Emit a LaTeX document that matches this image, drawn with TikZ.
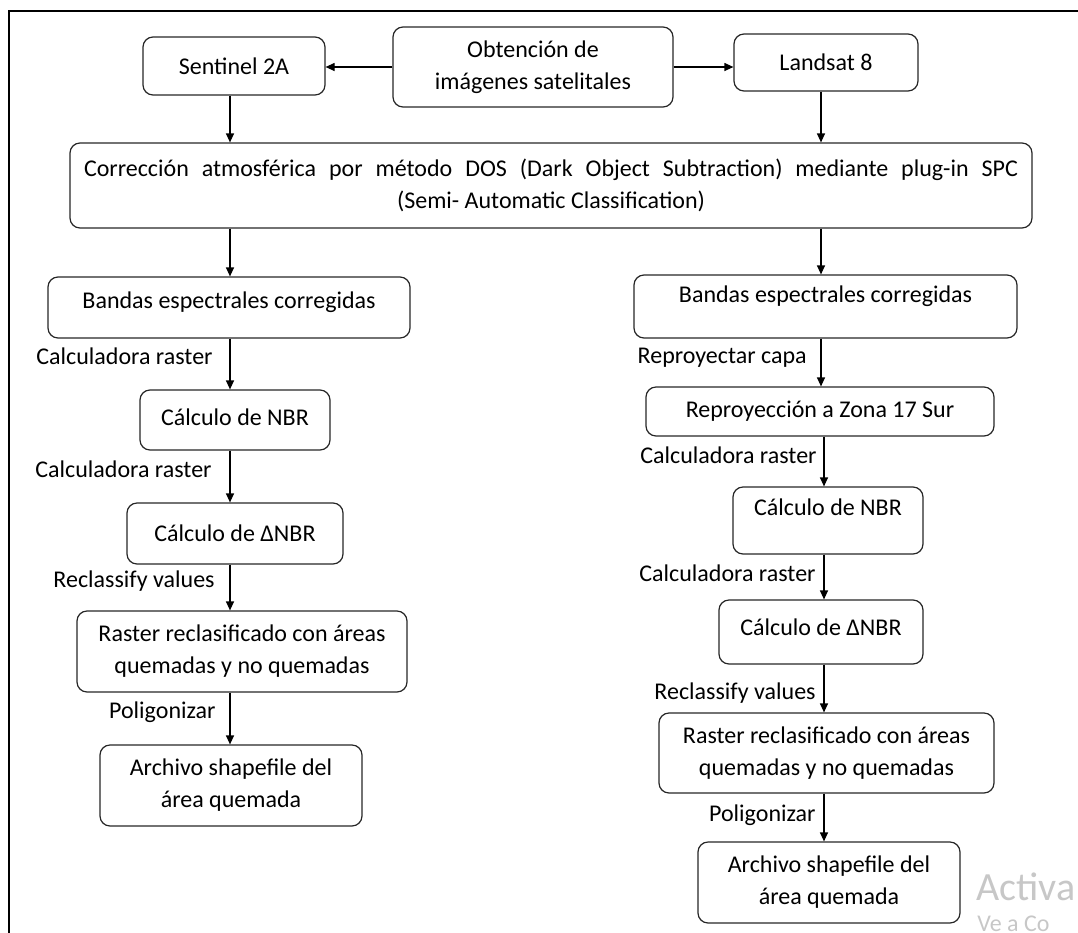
\documentclass[tikz,border=0pt]{standalone}
\usepackage{fontspec}
\setmainfont{Carlito}
\usetikzlibrary{arrows.meta}

\begin{document}
\begin{tikzpicture}[x=0.5pt,y=-0.5pt]
  \tikzstyle{every node}+=[inner sep=0pt]
  \tikzstyle{caja}=[draw=black!85, line width=0.6pt, rounded corners=5pt, align=center, font=\fontsize{12}{16}\selectfont]
  \tikzstyle{etiq}=[anchor=east, text height=8pt, text depth=2.5pt, font=\fontsize{12}{16}\selectfont]
  \tikzstyle{flecha}=[line width=0.6pt, -{Triangle[length=4.5pt,width=4pt]}]
  \useasboundingbox (0,0) rectangle (1078,933);
  \clip (0,0) rectangle (1078,933);
  \draw[line width=1pt] (9,933) -- (9,11) -- (1078,11);

  \coordinate (colL) at (230,0);
  \coordinate (colR) at (821,0);
  \coordinate (colS) at (824,0);

  \node[caja, minimum width=91pt, minimum height=29pt] (sen) at (234,66) {Sentinel 2A};
  \node[caja, minimum width=140pt, minimum height=40pt] (obt) at (533,67) {Obtención de\\imágenes satelitales};
  \node[caja, minimum width=92pt, minimum height=28.5pt] (lan) at (826,62.5) {Landsat 8};
  \node[caja, minimum width=481pt, minimum height=42.5pt] (cor) at (551,185.5) {\makebox[467pt][s]{Corrección atmosférica por método DOS (Dark Object Subtraction) mediante plug-in SPC}\hspace{6pt}\\(Semi- Automatic Classification)};

  % columna Sentinel
  \node[caja, minimum width=181pt, minimum height=30.5pt, text depth=7pt] (bl) at (229,307.5) {Bandas espectrales corregidas};
  \node[caja, minimum width=95pt, minimum height=30pt, text depth=2.5pt] (nbrl) at (235,420) {Cálculo de NBR};
  \node[caja, minimum width=108pt, minimum height=30.5pt] (dnbrl) at (235,533.5) {Cálculo de ΔNBR};
  \node[caja, minimum width=165pt, minimum height=40.5pt] (rasl) at (242,651.5) {Raster reclasificado con áreas\\quemadas y no quemadas};
  \node[caja, minimum width=131pt, minimum height=40.5pt] (arcl) at (231,785.5) {Archivo shapefile del\\área quemada};

  % columna Landsat
  \node[caja, minimum width=191.5pt, minimum height=31.5pt, text depth=12pt] (br) at (825.5,306.5) {Bandas espectrales corregidas};
  \node[caja, minimum width=174pt, minimum height=24.5pt] (rep) at (820,411.5) {Reproyección a Zona 17 Sur};
  \node[caja, minimum width=95pt, minimum height=33.5pt, text depth=13.5pt] (nbrr) at (828,520.5) {Cálculo de NBR};
  \node[caja, minimum width=102pt, minimum height=32pt, text depth=5pt] (dnbrr) at (821,632) {Cálculo de ΔNBR};
  \node[caja, minimum width=167.5pt, minimum height=40pt] (rasr) at (826.5,753) {Raster reclasificado con áreas\\quemadas y no quemadas};
  \node[caja, minimum width=131pt, minimum height=40.5pt] (arcr) at (829,882.5) {Archivo shapefile del\\área quemada};

  \node[etiq] (e1) at (213,359) {Calculadora raster};
  \node[etiq] (e2) at (212,472) {Calculadora raster};
  \node[etiq] (e3) at (215,582) {Reclassify values};
  \node[etiq] (e4) at (216,713) {Poligonizar};
  \node[etiq] (e5) at (807,358) {Reproyectar capa};
  \node[etiq] (e6) at (817,458) {Calculadora raster};
  \node[etiq] (e7) at (816,576) {Calculadora raster};
  \node[etiq] (e8) at (816,694) {Reclassify values};
  \node[etiq] (e9) at (816,816) {Poligonizar};

  \draw[flecha] (obt.west) -- (obt.west -| sen.east);
  \draw[flecha] (obt.east) -- (obt.east -| lan.west);
  \draw[flecha] (sen.south -| colL) -- (cor.north -| colL);
  \draw[flecha] (lan.south -| colR) -- (cor.north -| colR);
  \draw[flecha] (cor.south -| colL) -- (bl.north -| colL);
  \draw[flecha] (cor.south -| colR) -- (br.north -| colR);
  \draw[flecha] (bl.south -| colL) -- (nbrl.north -| colL);
  \draw[flecha] (nbrl.south -| colL) -- (dnbrl.north -| colL);
  \draw[flecha] (dnbrl.south -| colL) -- (rasl.north -| colL);
  \draw[flecha] (rasl.south -| colL) -- (arcl.north -| colL);
  \draw[flecha] (br.south -| colR) -- (rep.north -| colR);
  \draw[flecha] (rep.south -| colS) -- (nbrr.north -| colS);
  \draw[flecha] (nbrr.south -| colS) -- (dnbrr.north -| colS);
  \draw[flecha] (dnbrr.south -| colS) -- (rasr.north -| colS);
  \draw[flecha] (rasr.south -| colS) -- (arcr.north -| colS);

  \node[anchor=west, text=black!22, font=\fontsize{20}{24}\selectfont] (act) at (976,887) {Activa};
  \node[anchor=west, text=black!22, font=\fontsize{12}{14}\selectfont] (vea) at (977,924) {Ve a Co};
\end{tikzpicture}
\end{document}
